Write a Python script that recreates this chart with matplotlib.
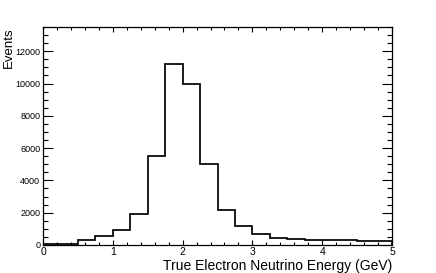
import matplotlib
matplotlib.use('Agg')
import matplotlib.pyplot as plt
from matplotlib.ticker import MultipleLocator
import numpy as np

plt.rcParams['font.family'] = ['Liberation Sans', 'DejaVu Sans']

# binning of true nu_e energy (GeV)
bin_edges = np.arange(0, 5.0001, 0.25)
events = [50, 70, 310, 560, 900, 1900, 5530, 11200, 10000, 5000,
          2180, 1200, 710, 450, 380, 320, 300, 280, 220, 240]

fig = plt.figure(figsize=(4.36, 2.73), dpi=100)
ax = fig.add_axes([43/436, 28/273, 349/436, 218/273])

ax.stairs(events, bin_edges, color='black', linewidth=1.25)

ax.set_xlim(0, 5)
ax.set_ylim(0, 13500)

ax.xaxis.set_major_locator(MultipleLocator(1))
ax.xaxis.set_minor_locator(MultipleLocator(0.2))
ax.yaxis.set_major_locator(MultipleLocator(2000))
ax.yaxis.set_minor_locator(MultipleLocator(500))

ax.tick_params(axis='both', which='both', direction='in', top=True, right=True,
               width=0.8, pad=2)
ax.tick_params(axis='x', labelsize=7.5, pad=1.5)
ax.tick_params(axis='y', labelsize=6.5)
ax.tick_params(axis='x', which='major', length=3.5)
ax.tick_params(axis='x', which='minor', length=2)
ax.tick_params(axis='y', which='major', length=7)
ax.tick_params(axis='y', which='minor', length=3.5)
for sp in ax.spines.values():
    sp.set_linewidth(0.9)

ax.set_xlabel('True Electron Neutrino Energy (GeV)', fontsize=10, loc='right')
ax.xaxis.set_label_coords(1.0, -0.064)
ax.xaxis.label.set_va('top')
ax.set_ylabel('Events', fontsize=9.5, loc='top')
ax.yaxis.set_label_coords(-0.08, 1.0)

fig.savefig('out.png', dpi=100)
